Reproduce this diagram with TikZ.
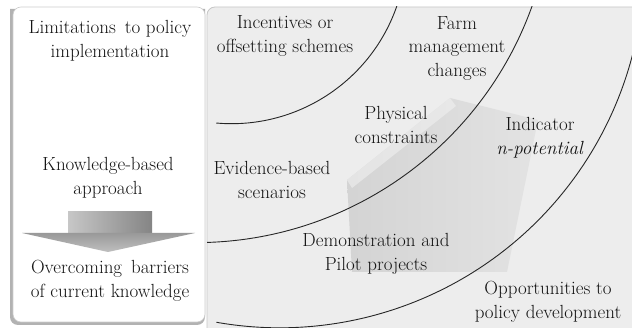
\documentclass[tikz,border=0pt]{standalone}
\usepackage{fontspec}
\setmainfont{Latin Modern Roman}
\begin{document}
\begin{tikzpicture}[x=1pt,y=-1pt,
  lbl/.style={align=center,inner sep=0pt,text=black!92,
    font=\fontsize{19}{23.5}\selectfont},
  ring/.style={draw=black!85,line width=0.9pt}]
% canvas
\useasboundingbox (0,0) rectangle (632,328);
\fill[white] (0,0) rectangle (632,328);

% right panel
\fill[black!7,draw=black!22,line width=0.8pt,rounded corners=8pt]
  (207,7) -- (640,7) -- (640,340) -- (207,340) -- cycle;

% left panel with its shadowed edge
\fill[black!30] (10,9) [rounded corners=8pt] -- (10,325) -- (205,325) [sharp corners] -- (205,9) -- cycle;
\fill[white,draw=black!20,line width=0.6pt,rounded corners=8pt]
  (13,7) -- (13,322) -- (205,322) -- (205,7) -- cycle;

% translucent pentagon behind the ring labels
\shade[left color=black!17,right color=black!11]
  (450,98) -- (538,120) -- (507,272) -- (352,272) -- (347,180) -- cycle;
\fill[black!6,opacity=0.6] (450,98) -- (347,180) -- (352,188) -- (456,106) -- cycle;

% rings
\begin{scope}
  \clip (207,7) rectangle (632,328);
  \coordinate (c1) at (231.5,-51.3);
  \coordinate (c2) at (196,-114.4);
  \coordinate (c3) at (279.7,-36.7);
  \draw[ring] (c1) ++(95:175) arc[start angle=95,end angle=15,radius=175];
  \draw[ring] (c2) ++(92:357) arc[start angle=92,end angle=15,radius=357];
  \draw[ring] (c3) ++(100:364.5) arc[start angle=100,end angle=-5,radius=364.5];
\end{scope}

% downward arrow in the left panel
\coordinate (sa) at (68,212);
\coordinate (sb) at (152,233);
\coordinate (hl) at (22,233);
\coordinate (hr) at (195,233);
\coordinate (tip) at (108,252);
\shade[left color=black!22,right color=black!48] (sa) rectangle (sb);
\shade[top color=black!40,bottom color=black!25] (hl) -- (hr) -- (tip) -- cycle;

% left panel texts
\node[lbl] (lim) at (110,41) {Limitations\, to policy\\implementation};
\node[lbl] (know) at (108,178) {Knowledge-based\\approach};
\node[lbl] (over) at (110,281) {Overcoming\, barriers\\of current knowledge};

% ring texts
\node[lbl] (inc) at (285,36) {Incentives or\\offsetting schemes};
\node[lbl] (farm) at (457,48) {Farm\\management\\changes};
\node[lbl] (phys) at (396,125) {Physical\\constraints};
\node[lbl] (ind) at (540,138) {Indicator\\\textit{n-potential}};
\node[lbl] (evid) at (272,180) {Evidence-based\\scenarios};
\node[lbl] (demo) at (376,254) {Demonstration and\\Pilot projects};
\node[lbl] (opp) at (548,302) {Opportunities to\\policy development};
\end{tikzpicture}
\end{document}
